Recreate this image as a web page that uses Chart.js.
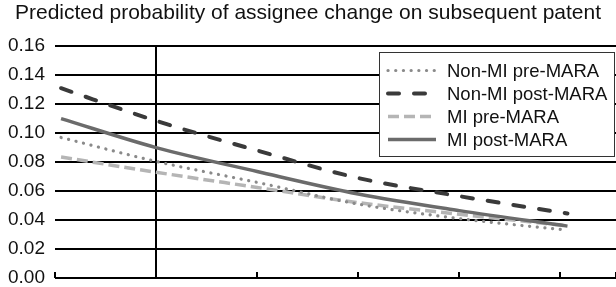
<!DOCTYPE html>
<html>
<head>
<meta charset="utf-8">
<script src="https://cdn.jsdelivr.net/npm/chart.js@4.4.1/dist/chart.umd.min.js"></script>
<style>
  html, body { margin: 0; padding: 0; background: #fff; }
  #wrap { width: 616px; height: 287px; }
</style>
</head>
<body>
<div id="wrap"><canvas id="chart"></canvas></div>
<script>
// x positions of the sampled points (axis has no labels)
var xPoints = [0.06, 1, 2, 3, 4, 5.07];
var yTicks = [0, 0.02, 0.04, 0.06, 0.08, 0.10, 0.12, 0.14, 0.16];

var seriesNames = ['Non-MI pre-MARA', 'Non-MI post-MARA', 'MI pre-MARA', 'MI post-MARA'];
var nonMiPre  = [0.097, 0.0805, 0.066, 0.051, 0.041, 0.033];
var nonMiPost = [0.131, 0.1085, 0.088, 0.069, 0.0565, 0.0445];
var miPre     = [0.0835, 0.073, 0.0625, 0.052, 0.044, 0.036];
var miPost    = [0.110, 0.090, 0.0735, 0.058, 0.0465, 0.0358];

var FONT = 'Liberation Sans, Arial, Helvetica, sans-serif';

function pts(vals) {
    return vals.map(function (v, i) { return { x: xPoints[i], y: v }; });
}

var datasets = [
    { label: seriesNames[0], data: pts(nonMiPre), borderColor: '#8a8a8a', borderWidth: 3.2,
      borderDash: [0.1, 7.6], borderCapStyle: 'round', order: 1 },
    { label: seriesNames[1], data: pts(nonMiPost), borderColor: '#3a3a3a', borderWidth: 4,
      borderDash: [11, 15], borderCapStyle: 'round', order: 2 },
    { label: seriesNames[2], data: pts(miPre), borderColor: '#b5b5b5', borderWidth: 3.5,
      borderDash: [11, 5], borderCapStyle: 'butt', order: 3 },
    { label: seriesNames[3], data: pts(miPost), borderColor: '#6b6b6b', borderWidth: 3.5,
      borderDash: [], borderCapStyle: 'butt', order: 0 }
];
datasets.forEach(function (d) {
    d.pointRadius = 0;
    d.fill = false;
    d.cubicInterpolationMode = 'monotone';
});

// short upward tick marks on the bottom axis
var upTicks = {
    id: 'upTicks',
    afterDatasetsDraw: function (chart) {
        var ctx = chart.ctx, xs = chart.scales.x, bottom = chart.chartArea.bottom;
        ctx.save();
        ctx.strokeStyle = '#000';
        ctx.lineWidth = 2;
        xs.ticks.forEach(function (t) {
            var px = Math.round(xs.getPixelForValue(t.value));
            ctx.beginPath();
            ctx.moveTo(px, bottom);
            ctx.lineTo(px, bottom - 6);
            ctx.stroke();
        });
        ctx.restore();
    }
};

// boxed legend inside the plot, top right
var boxLegend = {
    id: 'boxLegend',
    afterDraw: function (chart) {
        var ctx = chart.ctx;
        var left = 379, top = 52, w = 236, h = 105;
        ctx.save();
        ctx.fillStyle = '#fff';
        ctx.fillRect(left, top, w, h);
        ctx.strokeStyle = '#333';
        ctx.lineWidth = 1;
        ctx.strokeRect(left + 0.5, top + 0.5, w - 1, h - 1);
        chart.data.datasets.forEach(function (d, i) {
            var y = 70.5 + i * 23;
            ctx.strokeStyle = d.borderColor;
            ctx.lineWidth = d.borderWidth;
            ctx.lineCap = d.borderCapStyle;
            ctx.setLineDash(d.borderDash);
            ctx.beginPath();
            ctx.moveTo(388, y);
            ctx.lineTo(436, y);
            ctx.stroke();
            ctx.setLineDash([]);
            ctx.fillStyle = '#111';
            ctx.font = '18.5px ' + FONT;
            ctx.textBaseline = 'middle';
            ctx.textAlign = 'left';
            ctx.fillText(d.label, 447, y + 1);
        });
        ctx.restore();
    }
};

new Chart(document.getElementById('chart'), {
    type: 'line',
    data: { datasets: datasets },
    plugins: [upTicks, boxLegend],
    options: {
        responsive: true,
        maintainAspectRatio: false,
        animation: false,
        layout: { padding: { left: 0, right: 0, top: 0, bottom: 9 } },
        plugins: {
            legend: { display: false },
            tooltip: { enabled: false },
            title: {
                display: true,
                text: 'Predicted probability of assignee change on subsequent patent',
                color: '#111',
                font: { family: FONT, size: 21, weight: 'normal' },
                padding: { top: 1, bottom: 20 }
            }
        },
        scales: {
            x: {
                type: 'linear',
                min: 0,
                max: 5.55,
                afterFit: function (s) { s.height = 0; },
                ticks: { display: false, stepSize: 1 },
                border: { display: false },
                grid: {
                    drawTicks: false,
                    lineWidth: 2,
                    color: function (c) { return c.tick && c.tick.value === 1 ? '#000' : 'rgba(0,0,0,0)'; }
                }
            },
            y: {
                min: yTicks[0],
                max: yTicks[yTicks.length - 1],
                afterFit: function (s) { s.width = 55; s.paddingBottom = 0; s.paddingTop = 0; },
                afterBuildTicks: function (s) { s.ticks = yTicks.map(function (v) { return { value: v }; }); },
                ticks: {
                    padding: 10,
                    color: '#111',
                    font: { family: FONT, size: 19 },
                    callback: function (v) { return Number(v).toFixed(2); }
                },
                border: { display: false },
                grid: { color: '#000', lineWidth: 2, drawTicks: false }
            }
        }
    }
});
</script>
</body>
</html>
